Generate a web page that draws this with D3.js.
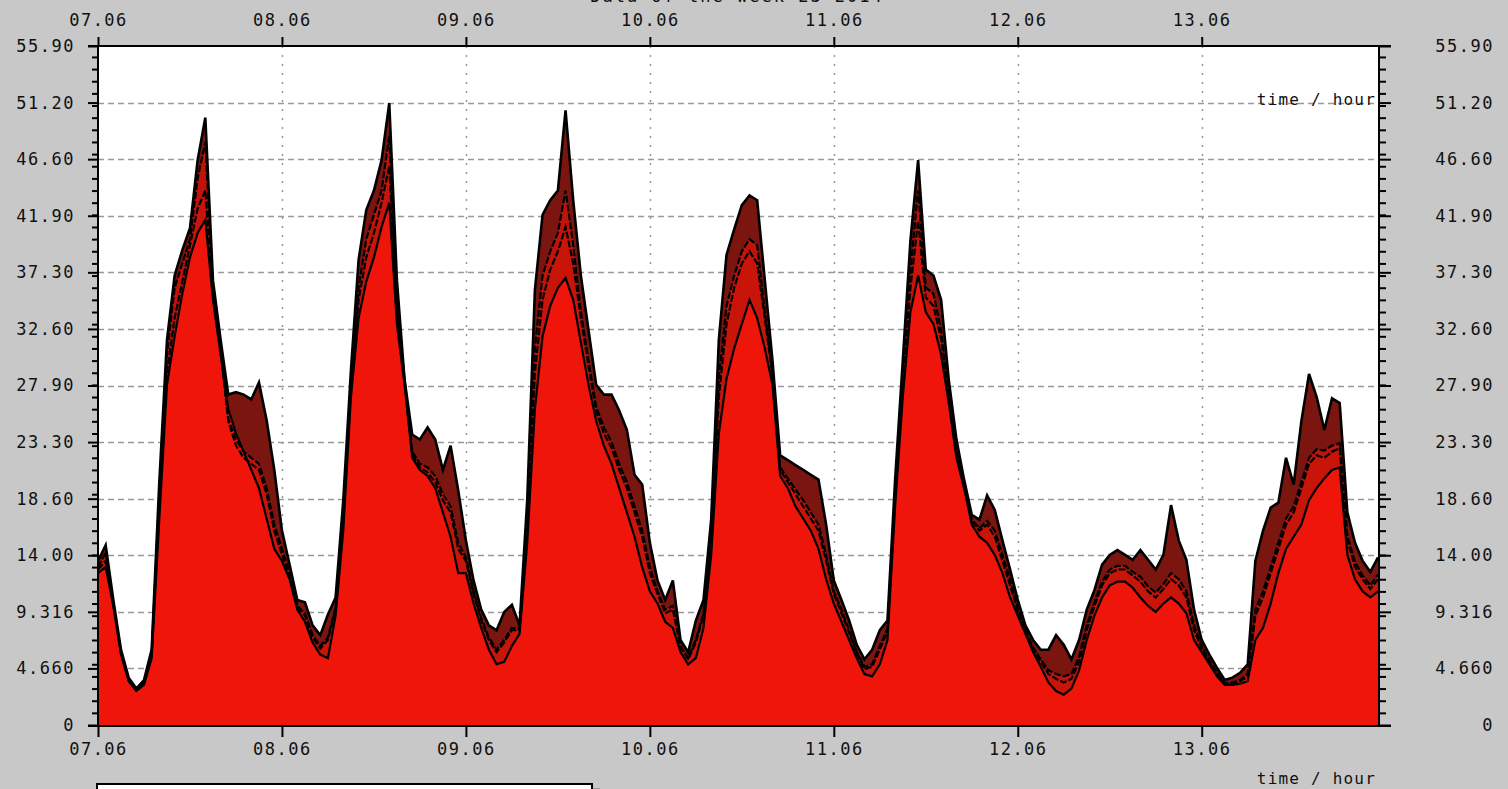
<!DOCTYPE html>
<html><head><meta charset="utf-8">
<script src="https://cdn.jsdelivr.net/npm/d3@7"></script>
<style>
html,body{margin:0;padding:0;background:#c8c8c8;overflow:hidden}
svg{display:block}
text{font-family:"DejaVu Sans Mono",monospace;fill:#111}
</style></head><body>
<script>
// ---- data (hourly, 07.06 00:00 .. 13.06 23:00) ----
const dayLabels = ["07.06","08.06","09.06","10.06","11.06","12.06","13.06"];
const yTickLabels = ["0","4.660","9.316","14.00","18.60","23.30","27.90","32.60","37.30","41.90","46.60","51.20","55.90"];
const yMax = 55.9;
const xTitle = "time / hour";
const chartTitle = "Data of the week 23 2014";

const seriesA = [
 13.5,14.8,10.3,6.2,3.9,3.0,3.7,6.2,20,31.7,37,39.1,40.9,46.5,50.0,36.6,31.7,27.2,27.4,27.2,26.8,28.2,25.1,21,
 16,13.2,10.3,10.1,8.2,7.4,9.1,10.5,18.5,29.2,38.3,42.4,44,46.5,51.2,36.6,28.4,23.9,23.5,24.5,23.5,21,23,19.3,
 15.2,11.9,9.5,8.2,7.8,9.3,9.9,8.2,18.5,35.8,42,43.2,44,50.6,43.2,37,32.5,28,27.2,27.2,25.9,24.3,20.6,19.8,
 15,11.9,10.3,11.9,7,6,8.6,10.3,16.9,31.7,38.7,40.8,42.8,43.6,43.2,36.6,30,22.2,21.8,21.4,21,20.6,20.2,16.5,
 11.9,10.3,8.6,6.6,5.4,6.2,7.8,8.6,20.2,30,39.9,46.5,37.5,37,35,28.4,23.5,20.2,17.3,16.9,18.9,17.7,15.2,12.8,
 10.3,8.2,7,6.2,6.2,7.4,6.6,5.4,7,9.5,11.1,13.2,14,14.4,14,13.6,14.4,13.6,12.8,14,18.1,15.2,13.6,9.5,
 7,5.8,4.7,3.7,3.9,4.3,5,13.5,16,17.9,18.3,22,19.8,25,28.9,27,24.3,26.9,26.5,17.5,15,13.5,12.6,13.8];
const seriesB = [
 13,14.2,10,6,3.8,2.9,3.5,6,19,30.5,36,38,40,45,48,36,31,25.2,23.5,22.5,22,21.5,19.5,16.5,
 14.5,12.5,9.8,9.2,7.4,6.5,7.2,9.7,17.2,28.2,36,40,42,44,48.5,34.5,28.5,22.5,21.5,21.2,20.5,19,18,15,
 13.8,11,8.8,7.2,6.2,7,8,7.9,16.5,31,37,39,40.5,44,39.5,34,30,26.2,24.5,23.3,21.5,20,18,16,
 13,11,9.5,9.8,6.5,5.5,7,9.2,15.5,28.5,34.5,37,39,40,39.5,34,29,21.2,20.3,19.4,18.5,17.5,16.5,14,
 11,9.5,7.8,6,4.8,5,6.5,7.9,19.2,29,37.5,44,36,35.5,32.5,27.2,22.8,19.7,16.9,16.2,16.8,16,14,12,
 9.6,7.8,6.4,5.4,4.5,4.2,4,4.2,5.6,8.2,10.1,11.8,12.8,13.1,13.1,12.6,12.2,11.4,10.9,11.6,12.5,12,11,8.2,
 6.5,5.3,4.3,3.45,3.5,3.7,4.2,9.5,11,13,15,17,18,20,22,22.7,22.6,23,23.2,15.6,13.4,12.3,11.5,12.4];
const seriesC = [
 12.8,13.5,9.9,5.9,3.7,2.85,3.4,5.8,18,29,33.5,36.5,39.5,42.5,44,35.5,30.8,25,23,22,21.5,21,19,16,
 14,12.3,9.7,9,7.2,6.3,7,9.5,16.8,27.8,35,38.5,40.5,43,46,34,28.2,22.3,21.2,20.8,20,18.5,17.5,14.5,
 13.5,10.8,8.6,7,6,6.8,7.8,7.8,16,29,35,37.5,39,41,38,33.5,29.5,25.8,24,22.8,21,19.5,17.5,15.5,
 12.5,10.8,9.2,9.5,6.4,5.4,6.8,9,15,27,33,36,38,39,38,33.5,28.8,21,20,19,18,17,16,13.5,
 10.8,9.2,7.6,5.9,4.6,4.8,6.2,7.7,18.8,28.2,36,41.5,35.2,34.5,31.8,27,22.5,19.6,16.8,16,16.5,15.5,13.5,11.5,
 9.4,7.7,6.3,5.2,4.2,3.8,3.5,3.8,5.2,7.8,9.8,11.5,12.5,12.8,12.8,12.3,11.8,11,10.5,11.2,12,11.5,10.5,7.8,
 6.3,5.2,4.2,3.4,3.4,3.6,4,9,10.5,12.5,14.5,16.5,17.5,19.5,21.5,22.2,22,22.5,22.8,15.2,13,12,11.2,12];
const seriesD = [
 12.5,13,9.8,5.8,3.6,2.8,3.3,5.5,17,28,32,35.5,38.5,40.5,41.6,35,30.5,26,24,22.5,21,19.5,17,14.5,
 13.5,12,9.5,8.5,6.8,5.8,5.5,9,16,27,33.5,36.5,38.5,41,43,33,28,22,21,20.5,19.5,17.5,15.5,12.5,
 12.5,10,8,6.2,5,5.2,6.5,7.5,15,26,32,34.5,36,36.8,35,31.5,28,25,23,21.5,19.5,17.5,15.5,13,
 11,10,8.5,8,6,5,5.5,8,14,24,28.5,31,33,35,33.5,31,28,20.5,19.5,18,17,16,14.5,12,
 10,8.5,7,5.5,4.2,4,5,7,18,27,34,37,34,33,30.5,26.5,22,19.5,16.5,15.5,15,14,12.5,10.5,
 9,7.5,6,4.8,3.5,2.8,2.5,3,4.5,7,9,10.5,11.5,11.8,11.8,11.3,10.5,9.8,9.3,10,10.5,10,9.2,7,
 6,5,4,3.3,3.3,3.4,3.6,7,8,10,12.5,14.5,15.5,16.5,18.5,19.5,20.3,21,21.2,14,12,11,10.5,11];

const seriesList = [
  {name:"A", values:seriesA, fill:"#7a1510"},
  {name:"B", values:seriesB, fill:"#c2130a"},
  {name:"C", values:seriesC, fill:"#c9140a"},
  {name:"D", values:seriesD, fill:"#ef150b"}
];

// ---- layout ----
const W = 1508, H = 789;
const L = 98, R = 1379, T = 46, B = 725;
const svg = d3.select("body").append("svg").attr("width", W).attr("height", H);

const x = d3.scaleLinear().domain([0, 167]).range([L, R - 1]);
const y = d3.scaleLinear().domain([0, yMax]).range([B, T]);

// plot background
svg.append("rect").attr("x", L).attr("y", T).attr("width", R - L).attr("height", B - T).attr("fill", "#fff");

// grid
const majorVals = d3.range(13).map(i => i * yMax / 12);
svg.append("g").selectAll("line").data(majorVals.slice(1, 12)).join("line")
  .attr("x1", L).attr("x2", R).attr("y1", d => Math.round(y(d)) + 0.5).attr("y2", d => Math.round(y(d)) + 0.5)
  .attr("stroke", "#999").attr("stroke-width", 1.5).attr("stroke-dasharray", "6,4");
svg.append("g").selectAll("line").data(d3.range(1, 7)).join("line")
  .attr("x1", d => Math.round(x(d * 24)) + 0.5).attr("x2", d => Math.round(x(d * 24)) + 0.5)
  .attr("y1", T).attr("y2", B)
  .attr("stroke", "#999").attr("stroke-width", 1.5).attr("stroke-dasharray", "2,7");

// "time / hour" label inside plot
svg.append("text").attr("x", 1376).attr("y", 105).attr("text-anchor", "end")
  .attr("font-size", 16).attr("letter-spacing", 1.2).text(xTitle);

// areas
const area = d3.area().x((d, i) => x(i)).y0(y(0)).y1(d => y(d));
const line = d3.line().x((d, i) => x(i)).y(d => y(d));
const gData = svg.append("g");
seriesList.forEach(s => {
  gData.append("path").datum(s.values).attr("d", area).attr("fill", s.fill);
});
seriesList.slice().reverse().forEach((s, k) => {
  gData.append("path").datum(s.values).attr("d", line).attr("fill", "none")
    .attr("stroke", "#000").attr("stroke-width", s.name === "A" ? 2.6 : 2.2)
    .attr("stroke-dasharray", s.name === "A" || s.name === "D" ? null : "7,2")
    .attr("stroke-linejoin", "miter");
});

// frame lines
const axG = svg.append("g").attr("stroke", "#000").attr("stroke-width", 2);
axG.append("line").attr("x1", L - 10).attr("x2", R + 12).attr("y1", T).attr("y2", T);
axG.append("line").attr("x1", L - 10).attr("x2", R + 12).attr("y1", B + 1).attr("y2", B + 1);
axG.append("line").attr("x1", L).attr("x2", L).attr("y1", T).attr("y2", B + 1);
axG.append("line").attr("x1", R).attr("x2", R).attr("y1", T).attr("y2", B + 1);

// y axes (left and right) with minor ticks at integer values
const minorVals = d3.range(1, 56);
const yLeft = d3.axisLeft(y).tickValues(majorVals).tickFormat((d, i) => yTickLabels[i]).tickSize(10).tickPadding(13);
const yRight = d3.axisRight(y).tickValues(majorVals).tickFormat(() => "").tickSize(12);
function styleAxis(g) {
  g.select(".domain").remove();
  g.selectAll(".tick line").attr("stroke", "#000").attr("stroke-width", 2);
  g.selectAll("text").attr("font-size", 17).attr("letter-spacing", 1.5)
    .attr("font-family", "DejaVu Sans Mono").attr("fill", "#111");
}
svg.append("g").attr("transform", `translate(${L},0)`).call(yLeft).call(styleAxis);
svg.append("g").attr("transform", `translate(${R},0)`).call(yRight).call(styleAxis);
svg.append("g").attr("transform", `translate(${L},0)`)
  .call(d3.axisLeft(y).tickValues(minorVals).tickFormat("").tickSize(6)).call(styleAxis);
svg.append("g").attr("transform", `translate(${R},0)`)
  .call(d3.axisRight(y).tickValues(minorVals).tickFormat("").tickSize(7)).call(styleAxis);
// right-hand labels, right-aligned
svg.append("g").selectAll("text").data(majorVals).join("text")
  .attr("x", 1494).attr("y", d => y(d)).attr("dy", "0.35em").attr("text-anchor", "end")
  .attr("font-size", 17).attr("letter-spacing", 1.5).text((d, i) => yTickLabels[i]);

// x axes
const dayTicks = d3.range(7).map(d => d * 24);
svg.append("g").attr("transform", `translate(0,${T})`)
  .call(d3.axisTop(x).tickValues(dayTicks).tickFormat((d, i) => dayLabels[i]).tickSize(9).tickPadding(11))
  .call(styleAxis);
svg.append("g").attr("transform", `translate(0,${B + 1})`)
  .call(d3.axisBottom(x).tickValues(dayTicks).tickFormat((d, i) => dayLabels[i]).tickSize(11).tickPadding(6))
  .call(styleAxis);

// bottom x title
svg.append("text").attr("x", 1376).attr("y", 784).attr("text-anchor", "end")
  .attr("font-size", 16).attr("letter-spacing", 1.2).text(xTitle);

// chart title at the very top (clipped by the window edge, as in the reference)
svg.append("text").attr("x", 737).attr("y", 2).attr("text-anchor", "middle")
  .attr("font-size", 17).attr("letter-spacing", 2).text(chartTitle);

// legend box (mostly below the window)
svg.append("rect").attr("x", 104).attr("y", 788).attr("width", 496).attr("height", 40).attr("fill", "#9a9a9a");
svg.append("rect").attr("x", 97).attr("y", 784).attr("width", 495).attr("height", 40)
  .attr("fill", "#fff").attr("stroke", "#000").attr("stroke-width", 2);
</script>
</body></html>
